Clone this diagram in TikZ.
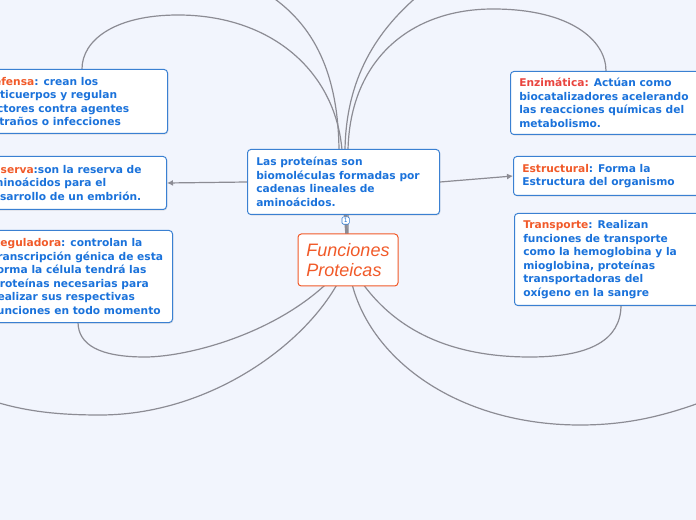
\documentclass[tikz,border=0pt]{standalone}
\usepackage{fontspec}
\setmainfont{DejaVu Sans}
\newfontfamily\rootfont{Liberation Sans}
\usetikzlibrary{arrows.meta, positioning, calc, shadows}
\definecolor{mblue}{HTML}{1A72DB}
\definecolor{mframe}{HTML}{3A80D2}
\definecolor{morange}{HTML}{F15A29}
\definecolor{mred}{HTML}{E9443E}
\definecolor{mwire}{HTML}{8C8C94}
\definecolor{mpaper}{HTML}{F2F5FD}

% topic card: #1 name, #2 north-west corner, #3 width, #4 height, #5 text
% the box is drawn empty, the text sits 9px in from its left edge
\newcommand{\topiccard}[5]{%
  \node[card, minimum width=#3, minimum height=#4] (#1) at #2 {};
  \node[cardtext] (#1t) at ([xshift=6.75pt]#1.west) {#5};%
}
\newcommand{\kw}[1]{\textcolor{morange}{#1}}

\begin{document}
\begin{tikzpicture}[
  x=0.75pt, y=-0.75pt,
  >={Latex[length=4.5pt, width=4.5pt]},
  card/.style     = {draw=mframe, line width=0.75pt, fill=white,
                     rounded corners=2.5pt, anchor=north west, inner sep=0pt,
                     drop shadow={shadow xshift=0.6pt, shadow yshift=-0.8pt,
                                  opacity=0.2}},
  cardtext/.style = {anchor=west, align=left, inner sep=0pt, text=mblue,
                     font=\bfseries\fontsize{8}{10.1}\selectfont},
  rootbox/.style  = {draw=morange, line width=0.75pt, fill=white,
                     rounded corners=2.5pt, align=left, text=morange,
                     font=\rootfont\itshape\fontsize{13.5}{15}\selectfont,
                     minimum width=75pt, minimum height=39pt, inner sep=0pt},
  wire/.style     = {draw=mwire, line width=0.9pt},
  badge/.style    = {draw=mframe, fill=white, line width=0.5pt, text=mblue,
                     rounded corners=1pt, inner sep=0.6pt, minimum size=5.5pt,
                     font=\fontsize{4.5}{5}\selectfont},
]

% ================================================================ page ===
\useasboundingbox (0,0) rectangle (696,520);
\fill[mpaper] (0,0) rectangle (696,520);
\clip (0,0) rectangle (696,520);

% every wire leaves from the centre of the root, which is drawn over them
\coordinate (hub) at (348,260);

% ====================================================== wires, upwards ===
\draw[wire] (hub) -- (339,150) .. controls (338,60) and (305,15) .. (258,-12);
\draw[wire] (hub) -- (342,150) .. controls (335,70) and (270,15) .. (178,15)
            .. controls (115,15) and (82,40) .. (82,69);
\draw[wire] (hub) -- (345,150) .. controls (346,80) and (375,30) .. (425,-10);
\draw[wire] (hub) -- (348,150) .. controls (350,60) and (410,9) .. (493,9)
            .. controls (570,9) and (606,40) .. (606,71);

% ==================================================== wires, downwards ===
\draw[wire] (hub) .. controls (295,330) and (190,357) .. (145,357)
            .. controls (100,357) and (78,345) .. (78,322);
\draw[wire] (hub) .. controls (325,330) and (220,415) .. (100,415)
            .. controls (50,415) and (15,410) .. (-25,395);
\draw[wire] (hub) .. controls (385,330) and (450,357) .. (530,357)
            .. controls (590,357) and (621,340) .. (621,305);
\draw[wire] (hub) .. controls (355,350) and (450,425) .. (580,425)
            .. controls (630,425) and (670,415) .. (720,395);

% ========================================================= topic cards ===
\topiccard{defensa}{(-24,69)}{143.25pt}{48pt}%
  {\kw{Defensa}: crean los\\anticuerpos y regulan\\factores contra agentes\\extraños o infecciones}
\topiccard{reserva}{(-24,156)}{142.5pt}{39.75pt}%
  {\kw{Reserva}:son la reserva de\\aminoácidos para el\\desarrollo de un embrión.}
\topiccard{reguladora}{(-17,230)}{141.75pt}{69pt}%
  {\kw{Reguladora}: controlan la\\transcripción génica de esta\\forma la célula tendrá las\\proteínas necesarias para\\realizar sus respectivas\\funciones en todo momento}
\topiccard{proteina}{(247,149)}{144pt}{48.75pt}%
  {Las proteínas son\\biomoléculas formadas por\\cadenas lineales de\\aminoácidos.}
\topiccard{enzima}{(510,71)}{150pt}{47.25pt}%
  {\textcolor{mred}{Enzimática:} Actúan como\\biocatalizadores acelerando\\las reacciones químicas del\\metabolismo.}
\topiccard{estructural}{(513,156)}{150pt}{29.25pt}%
  {\kw{Estructural}: Forma la\\Estructura del organismo}
\topiccard{transporte}{(514,213)}{150pt}{69pt}%
  {\kw{Transporte}: Realizan\\funciones de transporte\\como la hemoglobina y la\\mioglobina, proteínas\\transportadoras del\\oxígeno en la sangre}

\node[rootbox] (root) at (hub) {Funciones\\Proteicas};

% ====================================================== straight links ===
\draw[wire, ->] (proteina.west) -- (reserva.east);
\draw[wire, ->] (proteina.east) -- (estructural.west);
\draw[wire, ->] (root) -- node[badge, pos=0.7] {1} (proteina);

\end{tikzpicture}
\end{document}
